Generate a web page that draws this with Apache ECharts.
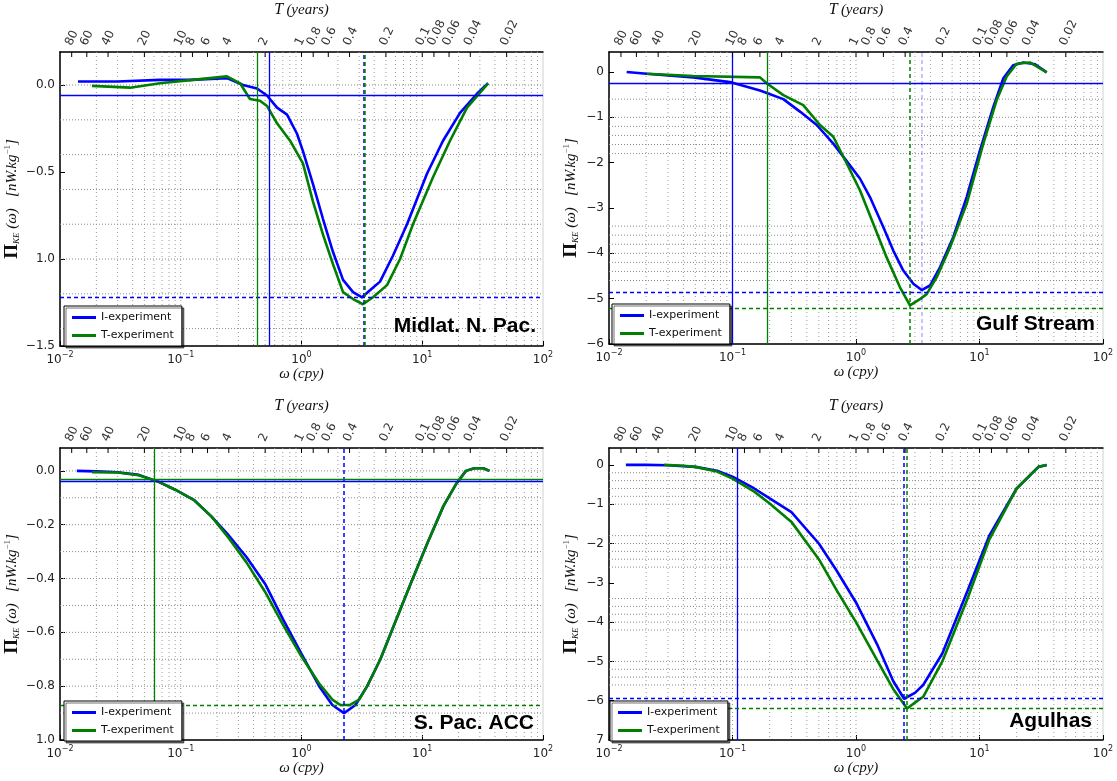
<!DOCTYPE html>
<html><head><meta charset="utf-8">
<script src="https://cdn.jsdelivr.net/npm/echarts@6/dist/echarts.min.js"></script>
<style>html,body{margin:0;padding:0;background:#fff}#c{width:1117px;height:781px}</style>
</head><body><div id="c"></div>
<script>
// ---------- shared ----------
const periodTicks = [80,60,40,20,10,8,6,4,2,1,0.8,0.6,0.4,0.2,0.1,0.08,0.06,0.04,0.02];
const seriesNames = ['I-experiment','T-experiment'];

// ---------- panel 1 : Midlat. N. Pac. ----------
const p1_I_omega = [0.0141,0.03,0.0673,0.12,0.2415,0.328,0.428,0.518,0.627,0.759,0.918,1.028,1.245,1.507,1.824,2.208,2.673,3.17,3.69,4.47,5.73,7.48,10.94,14.86,20.56,28.38,35.08];
const p1_I_value = [0.02,0.02,0.03,0.03,0.04,0.0,-0.02,-0.06,-0.13,-0.17,-0.28,-0.38,-0.57,-0.77,-0.96,-1.12,-1.19,-1.22,-1.18,-1.13,-0.98,-0.80,-0.51,-0.32,-0.16,-0.05,0.01];
const p1_T_omega = [0.0184,0.038,0.0673,0.126,0.2415,0.31,0.374,0.453,0.518,0.627,0.804,1.028,1.245,1.507,1.824,2.208,2.673,3.23,3.91,5.11,6.55,8.38,12.27,16.98,23.5,35.08];
const p1_T_value = [-0.005,-0.015,0.01,0.03,0.05,0.01,-0.08,-0.09,-0.12,-0.22,-0.32,-0.45,-0.67,-0.86,-1.03,-1.19,-1.23,-1.26,-1.22,-1.15,-1.0,-0.80,-0.53,-0.32,-0.13,0.01];
const p1_yTickValues = [-1.5,-1.0,-0.5,0.0];
const p1_yTickLabels = ['\u22121.5','1.0','\u22120.5','0.0'];
const p1_hGrid = [0,-0.2,-0.4,-0.6,-0.8,-1.0,-1.2,-1.4];
const p1_I_vSolid = [0.535], p1_I_vDash = [3.25], p1_I_hSolid = [-0.058], p1_I_hDash = [-1.22];
const p1_T_vSolid = [0.435], p1_T_vDash = [3.35], p1_T_hSolid = [], p1_T_hDash = [];

// ---------- panel 2 : Gulf Stream ----------
const p2_I_omega = [0.0139,0.0202,0.0482,0.0984,0.167,0.258,0.354,0.481,0.655,0.893,1.076,1.297,1.663,2.004,2.415,2.911,3.404,3.972,4.786,6.138,7.87,10.09,12.94,15.6,18.79,22.65,28.2,35.0];
const p2_I_value = [0.0,-0.04,-0.12,-0.23,-0.41,-0.60,-0.88,-1.17,-1.58,-2.06,-2.35,-2.76,-3.42,-3.94,-4.38,-4.67,-4.81,-4.71,-4.31,-3.64,-2.76,-1.73,-0.77,-0.14,0.15,0.21,0.17,-0.01];
const p2_T_omega = [0.0202,0.0482,0.167,0.189,0.258,0.374,0.511,0.655,0.841,1.076,1.380,1.770,2.270,2.735,3.296,3.733,4.498,5.768,7.87,10.74,13.77,16.6,20.0,25.6,35.0];
const p2_T_value = [-0.04,-0.09,-0.12,-0.25,-0.51,-0.73,-1.17,-1.43,-2.02,-2.61,-3.35,-4.09,-4.75,-5.15,-5.01,-4.90,-4.53,-3.87,-2.91,-1.58,-0.62,-0.10,0.18,0.21,-0.01];
const p2_yTickValues = [-6,-5,-4,-3,-2,-1,0];
const p2_yTickLabels = ['\u22126','\u22125','\u22124','\u22123','\u22122','\u22121','0'];
const p2_hGrid = [-0.6,-1.0,-1.2,-1.4,-1.6,-1.8,-3.4,-3.6,-3.8,-4.0,-4.2,-4.4,-4.6];
const p2_I_vSolid = [0.098], p2_I_vDash = [3.4], p2_I_hSolid = [-0.25], p2_I_hDash = [-4.85];
const p2_T_vSolid = [0.187], p2_T_vDash = [2.74], p2_T_hSolid = [], p2_T_hDash = [-5.21];

// ---------- panel 3 : S. Pac. ACC ----------
const p3_I_omega = [0.0138,0.02,0.03,0.045,0.065,0.09,0.13,0.18,0.25,0.35,0.5,0.7,1.0,1.4,1.8,2.25,2.8,3.5,4.5,6,8,11,15,19,23,27,32,36];
const p3_I_value = [0.0,-0.002,-0.005,-0.015,-0.04,-0.07,-0.11,-0.17,-0.24,-0.32,-0.42,-0.55,-0.68,-0.80,-0.87,-0.90,-0.87,-0.80,-0.70,-0.56,-0.42,-0.27,-0.13,-0.05,0.0,0.01,0.01,0.0];
const p3_T_omega = [0.0184,0.03,0.045,0.065,0.09,0.13,0.18,0.25,0.35,0.5,0.7,1.0,1.4,1.8,2.1,2.5,3.0,3.5,4.5,6,8,11,15,19,23,27,32,36];
const p3_T_value = [-0.005,-0.006,-0.016,-0.04,-0.07,-0.11,-0.17,-0.25,-0.34,-0.45,-0.57,-0.69,-0.79,-0.85,-0.87,-0.87,-0.85,-0.80,-0.70,-0.56,-0.42,-0.27,-0.13,-0.05,0.0,0.01,0.01,0.0];
const p3_yTickValues = [-1.0,-0.8,-0.6,-0.4,-0.2,0.0];
const p3_yTickLabels = ['1.0','\u22120.8','\u22120.6','\u22120.4','\u22120.2','0.0'];
const p3_hGrid = [0,-0.1,-0.2,-0.3,-0.4,-0.5,-0.6,-0.7,-0.8,-0.9];
const p3_I_vSolid = [], p3_I_vDash = [2.25], p3_I_hSolid = [-0.045], p3_I_hDash = [];
const p3_T_vSolid = [0.064], p3_T_vDash = [], p3_T_hSolid = [-0.033], p3_T_hDash = [-0.87];

// ---------- panel 4 : Agulhas ----------
const p4_I_omega = [0.0137,0.02,0.03,0.05,0.075,0.1,0.15,0.2,0.3,0.5,0.7,1.0,1.5,2.0,2.45,3.0,3.5,5.0,8.0,12,20,30,35];
const p4_I_value = [0.0,0.0,-0.01,-0.05,-0.15,-0.3,-0.6,-0.85,-1.2,-2.0,-2.7,-3.5,-4.6,-5.5,-5.95,-5.8,-5.6,-4.8,-3.2,-1.8,-0.6,-0.05,0.0];
const p4_T_omega = [0.028,0.04,0.05,0.075,0.1,0.15,0.2,0.3,0.5,0.7,1.0,1.5,2.0,2.59,3.0,3.5,5.0,8.0,12,20,30,35];
const p4_T_value = [0.0,-0.02,-0.05,-0.17,-0.35,-0.68,-0.98,-1.45,-2.4,-3.2,-4.0,-5.0,-5.7,-6.2,-6.05,-5.9,-5.0,-3.4,-1.9,-0.6,-0.05,0.0];
const p4_yTickValues = [-7,-6,-5,-4,-3,-2,-1,0];
const p4_yTickLabels = ['7','\u22126','\u22125','\u22124','\u22123','\u22122','\u22121','0'];
const p4_hGrid = [-0.2,-0.4,-0.6,-0.8,-1.0,-1.8,-2.0,-2.2,-2.4,-2.6,-3.4,-3.6,-3.8,-4.0,-4.2,-5.0,-5.2,-5.4,-5.6];
const p4_I_vSolid = [0.109], p4_I_vDash = [2.45], p4_I_hSolid = [], p4_I_hDash = [-5.95];
const p4_T_vSolid = [], p4_T_vDash = [2.59], p4_T_hSolid = [], p4_T_hDash = [-6.2];

// ---------- layout ----------
const panels = [
  {grid:{left:60, top:52, width:483, height:294}, yMin:-1.5, yMax:0.19, yInt:0.5, tv:p1_yTickValues, tl:p1_yTickLabels, hg:p1_hGrid,
   I:[p1_I_omega,p1_I_value], T:[p1_T_omega,p1_T_value],
   refI:[p1_I_vSolid,p1_I_vDash,p1_I_hSolid,p1_I_hDash], refT:[p1_T_vSolid,p1_T_vDash,p1_T_hSolid,p1_T_hDash],
   label:'Midlat. N. Pac.', labelX:536, labelY:328, legend:{left:64, top:306}, nameGap:36},
  {grid:{left:609, top:52, width:494, height:292}, yMin:-6, yMax:0.44, yInt:1, tv:p2_yTickValues, tl:p2_yTickLabels, hg:p2_hGrid,
   I:[p2_I_omega,p2_I_value], T:[p2_T_omega,p2_T_value],
   refI:[p2_I_vSolid,p2_I_vDash,p2_I_hSolid,p2_I_hDash], refT:[p2_T_vSolid,p2_T_vDash,p2_T_hSolid,p2_T_hDash],
   label:'Gulf Stream', labelX:1095, labelY:326, legend:{left:612, top:304}, nameGap:28, faintIDash:true},
  {grid:{left:60, top:448, width:483, height:292}, yMin:-1.0, yMax:0.085, yInt:0.2, tv:p3_yTickValues, tl:p3_yTickLabels, hg:p3_hGrid,
   I:[p3_I_omega,p3_I_value], T:[p3_T_omega,p3_T_value],
   refI:[p3_I_vSolid,p3_I_vDash,p3_I_hSolid,p3_I_hDash], refT:[p3_T_vSolid,p3_T_vDash,p3_T_hSolid,p3_T_hDash],
   label:'S. Pac. ACC', labelX:534, labelY:725, legend:{left:64, top:701}, nameGap:38},
  {grid:{left:609, top:448, width:494, height:292}, yMin:-7, yMax:0.43, yInt:1, tv:p4_yTickValues, tl:p4_yTickLabels, hg:p4_hGrid,
   I:[p4_I_omega,p4_I_value], T:[p4_T_omega,p4_T_value],
   refI:[p4_I_vSolid,p4_I_vDash,p4_I_hSolid,p4_I_hDash], refT:[p4_T_vSolid,p4_T_vDash,p4_T_hSolid,p4_T_hDash],
   label:'Agulhas', labelX:1092, labelY:723, legend:{left:610, top:701}, nameGap:28}
];

const colorI = '#0000ff', colorT = '#007f00';
const serif = '"Liberation Serif","DejaVu Serif",serif';
const sans = '"DejaVu Sans","Liberation Sans",sans-serif';

// vertical log minor grid positions
const vGridPositions = [];
for (let k = -2; k < 2; k++) for (let m = 1; m < 10; m++) vGridPositions.push(m * Math.pow(10, k));

const option = {animation:false, backgroundColor:'#fff', grid:[], xAxis:[], yAxis:[], series:[], legend:[], graphic:[]};

function supLabel(v){
  const e = Math.round(Math.log10(v));
  return '{b|10}{e|' + (e < 0 ? '\u2212' + (-e) : e) + '}';
}

panels.forEach((p, i) => {
  option.grid.push(Object.assign({show:true, borderColor:'#d0d0d0', borderWidth:1, backgroundColor:'#fff'}, p.grid));
  option.xAxis.push({type:'log', gridIndex:i, min:0.01, max:100, logBase:10, position:'bottom',
    name:'{w|\u03c9} {c|(cpy)}', nameLocation:'middle', nameGap:19,
    nameTextStyle:{rich:{w:{fontFamily:serif, fontStyle:'italic', fontSize:15, color:'#111'}, c:{fontFamily:serif, fontStyle:'italic', fontSize:15, color:'#111'}}},
    axisLine:{show:true, onZero:false, lineStyle:{color:'#000', width:1.5}},
    axisTick:{show:true, inside:true, length:5, lineStyle:{color:'#000'}},
    axisLabel:{formatter:supLabel, margin:5, color:'#222', rich:{b:{fontFamily:sans, fontSize:12, color:'#222'}, e:{fontFamily:sans, fontSize:8, color:'#222', padding:[0,0,9,0]}}},
    splitLine:{show:false}});
  option.xAxis.push({type:'log', gridIndex:i, min:0.01, max:100, logBase:10, position:'top',
    name:'{t|T} {c|(years)}', nameLocation:'middle', nameGap:34,
    nameTextStyle:{rich:{t:{fontFamily:serif, fontStyle:'italic', fontSize:16, color:'#111'}, c:{fontFamily:serif, fontStyle:'italic', fontSize:15, color:'#111'}}},
    axisLine:{show:true, onZero:false, lineStyle:{color:'#000', width:1.5}},
    axisTick:{show:false}, axisLabel:{show:false}, splitLine:{show:false}});
  const tv = p.tv, tl = p.tl;
  option.yAxis.push({type:'value', gridIndex:i, min:p.yMin, max:p.yMax, interval:p.yInt,
    name:'{P|\u03a0}{s|KE}{i| (\u03c9)   [nW.kg}{u|\u22121}{i|]}', nameLocation:'middle', nameGap:p.nameGap, nameRotate:90,
    nameTextStyle:{rich:{P:{fontFamily:serif, fontWeight:'bold', fontSize:19, color:'#111'},
      s:{fontFamily:serif, fontStyle:'italic', fontSize:9, color:'#111', padding:[8,0,0,0]},
      i:{fontFamily:serif, fontStyle:'italic', fontSize:15, color:'#111'},
      u:{fontFamily:serif, fontSize:9, color:'#555', padding:[0,0,9,0]}}},
    axisLine:{show:true, onZero:false, lineStyle:{color:'#000', width:1.5}},
    axisTick:{show:true, inside:true, length:5, lineStyle:{color:'#000'}},
    axisLabel:{color:'#222', fontFamily:sans, fontSize:12, margin:5, showMaxLabel:false,
      formatter:(v)=>{ for (let k=0;k<tv.length;k++) if (Math.abs(tv[k]-v)<1e-6) return tl[k]; return ''; }},
    splitLine:{show:false}});
  const xb = 2*i;
  option.series.push({type:'custom', xAxisIndex:xb, yAxisIndex:i, silent:true, z:1, clip:false,
    data: vGridPositions.map(w => [w, p.yMin]),
    renderItem:(params, api) => {
      const cs = params.coordSys; const x = api.coord([api.value(0), api.value(1)])[0];
      if (x <= cs.x + 1 || x >= cs.x + cs.width - 1) return null;
      return {type:'line', shape:{x1:x, y1:cs.y, x2:x, y2:cs.y+cs.height}, style:{stroke:'#9a9a9a', lineWidth:1, lineDash:[1,3]}};
    }});
  option.series.push({type:'custom', xAxisIndex:xb, yAxisIndex:i, silent:true, z:1, clip:false,
    data: p.hg.map(v => [1, v]),
    renderItem:(params, api) => {
      const cs = params.coordSys; const y = api.coord([api.value(0), api.value(1)])[1];
      return {type:'line', shape:{x1:cs.x, y1:y, x2:cs.x+cs.width, y2:y}, style:{stroke:'#8a8a8a', lineWidth:1, lineDash:[1,2]}};
    }});
  option.series.push({type:'custom', xAxisIndex:xb, yAxisIndex:i, silent:true, z:5, clip:false,
    data: periodTicks.map(T => [1/T, p.yMin, T]),
    renderItem:(params, api) => {
      const cs = params.coordSys; const x = api.coord([api.value(0), api.value(1)])[0];
      const T = api.value(2);
      return {type:'group', children:[
        {type:'line', shape:{x1:x, y1:cs.y, x2:x, y2:cs.y+5}, style:{stroke:'#000', lineWidth:1}},
        {type:'text', x:x-3, y:cs.y-7, rotation:Math.PI*0.36,
          style:{text:String(T), fill:'#333', font:'12px ' + sans, align:'left', verticalAlign:'middle'}}
      ]};
    }});
  // reference lines: one markLine-carrying helper series per colour so the colour is explicit
  function refSeries(ref, color, faint){
    const d = [];
    ref[0].forEach(v => d.push({xAxis:v, lineStyle:{color:color, width:1.3, type:'solid'}}));
    ref[1].forEach(v => d.push({xAxis:v, lineStyle:{color:color, width:1.5, type:[4,3], opacity: faint ? 0.3 : 1}}));
    ref[2].forEach(v => d.push({yAxis:v, lineStyle:{color:color, width:1.3, type:'solid'}}));
    ref[3].forEach(v => d.push({yAxis:v, lineStyle:{color:color, width:1.3, type:[4,3]}}));
    return {type:'line', xAxisIndex:xb, yAxisIndex:i, data:[], z:2, silent:true,
      markLine:{silent:true, symbol:['none','none'], label:{show:false}, animation:false,
        lineStyle:{color:color, width:1.3}, emphasis:{disabled:true}, data:d}};
  }
  option.series.push(refSeries(p.refI, colorI, p.faintIDash));
  option.series.push(refSeries(p.refT, colorT, false));
  option.series.push({type:'line', name:seriesNames[0], xAxisIndex:xb, yAxisIndex:i, z:3,
    data: p.I[0].map((w, k) => [w, p.I[1][k]]), showSymbol:false, symbol:'none',
    lineStyle:{color:colorI, width:2.6}, itemStyle:{color:colorI}});
  option.series.push({type:'line', name:seriesNames[1], xAxisIndex:xb, yAxisIndex:i, z:4,
    data: p.T[0].map((w, k) => [w, p.T[1][k]]), showSymbol:false, symbol:'none',
    lineStyle:{color:colorT, width:2.6}, itemStyle:{color:colorT}});
  option.legend.push({left:p.legend.left, top:p.legend.top, orient:'vertical', data:seriesNames,
    icon:'rect', itemWidth:24, itemHeight:3, itemGap:7, padding:[6,8,5,8],
    backgroundColor:'#fff', borderColor:'#000', borderWidth:1,
    shadowColor:'rgba(0,0,0,0.55)', shadowOffsetX:2, shadowOffsetY:2, shadowBlur:0,
    textStyle:{fontFamily:sans, fontSize:11, color:'#111'}, selectedMode:false, z:10});
  option.graphic.push({type:'text', right:1117 - p.labelX, top:p.labelY - 12, z:20,
    style:{text:p.label, font:'bold 21px "Liberation Sans", Arial, sans-serif', fill:'#000'}});
});

const chart = echarts.init(document.getElementById('c'), null, {renderer:'canvas'});
chart.setOption(option);
</script></body></html>
